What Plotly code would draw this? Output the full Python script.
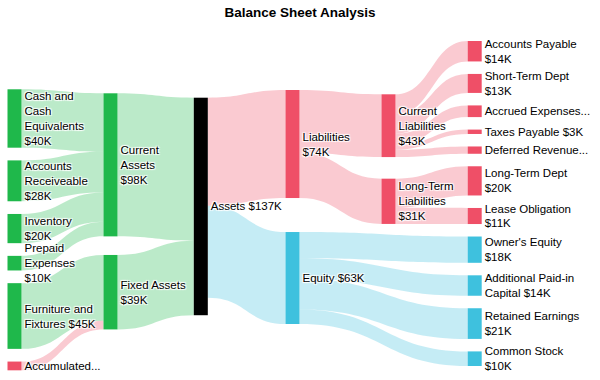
import plotly.graph_objects as go

# ---------------- data ----------------
node_names = ["Cash and<br>Cash<br>Equivalents", "Accounts<br>Receiveable", "Inventory", "Prepaid<br>Expenses",
              "Furniture and<br>Fixtures", "Accumulated...",
              "Current<br>Assets", "Fixed Assets",
              "Assets",
              "Liabilities", "Equity",
              "Current<br>Liabilities", "Long-Term<br>Liabilities",
              "Accounts Payable", "Short-Term Dept", "Accrued Expenses...", "Taxes Payable", "Deferred Revenue...",
              "Long-Term Dept", "Lease Obligation",
              "Owner's Equity", "Additional Paid-in<br>Capital", "Retained Earnings", "Common Stock"]
node_value_text = ["$40K", "$28K", "$20K", "$10K", "$45K", "",
                   "$98K", "$39K", "$137K", "$74K", "$63K", "$43K", "$31K",
                   "$14K", "$13K", "", "$3K", "", "$20K", "$11K",
                   "$18K", "$14K", "$21K", "$10K"]
node_groups = ["asset"] * 5 + ["liab"] + ["asset", "asset", "total", "liab", "equity", "liab", "liab"] \
    + ["liab"] * 7 + ["equity"] * 4

link_source = ["Cash and<br>Cash<br>Equivalents", "Accounts<br>Receiveable", "Inventory", "Prepaid<br>Expenses",
               "Furniture and<br>Fixtures", "Accumulated...",
               "Current<br>Assets", "Fixed Assets", "Assets", "Assets",
               "Liabilities", "Liabilities",
               "Current<br>Liabilities", "Current<br>Liabilities", "Current<br>Liabilities",
               "Current<br>Liabilities", "Current<br>Liabilities",
               "Long-Term<br>Liabilities", "Long-Term<br>Liabilities",
               "Equity", "Equity", "Equity", "Equity"]
link_target = ["Current<br>Assets", "Current<br>Assets", "Current<br>Assets", "Current<br>Assets",
               "Fixed Assets", "Fixed Assets",
               "Assets", "Assets", "Liabilities", "Equity",
               "Current<br>Liabilities", "Long-Term<br>Liabilities",
               "Accounts Payable", "Short-Term Dept", "Accrued Expenses...", "Taxes Payable", "Deferred Revenue...",
               "Long-Term Dept", "Lease Obligation",
               "Owner's Equity", "Additional Paid-in<br>Capital", "Retained Earnings", "Common Stock"]
link_value = [40, 28, 20, 10, 45, 6, 98, 51, 74, 63, 43, 31, 14, 13, 8, 3, 5, 20, 11, 18, 14, 21, 10]

# ---------------- styling / layout ----------------
W, H = 600, 380
TOP, BOTTOM = 41, 9
PAD, THICK = 13, 14
node_color = {"asset": "#1fb84b", "liab": "#ef4f67", "equity": "#3ec1de", "total": "#000000"}
link_color = {"asset": "rgba(31,184,75,0.3)", "liab": "rgba(239,79,103,0.3)",
              "equity": "rgba(62,193,222,0.3)"}

# column membership (top-to-bottom order), column centre x (px), column top (px), gap (px)
columns = [
    (node_names[0:6], 14.5, 89.3, 12.7),
    (node_names[6:8], 110.5, 93.3, 18.6),
    (node_names[8:9], 200.8, 97.7, 0),
    (node_names[9:11], 292.5, 90.0, 34.0),
    (node_names[11:13], 388.5, 94.3, 21.6),
    (node_names[13:24], 474.7, 41.0, 12.5),
]

idx = {n: i for i, n in enumerate(node_names)}
n_nodes = len(node_names)

# node sizes from link flows (max of in/out), like the sankey engine does
inflow = [0.0] * n_nodes
outflow = [0.0] * n_nodes
for s, t, v in zip(link_source, link_target, link_value):
    outflow[idx[s]] += v
    inflow[idx[t]] += v
size = [max(a, b) for a, b in zip(inflow, outflow)]

plot_h = H - TOP - BOTTOM
last = columns[-1][0]
ky = (plot_h - (len(last) - 1) * PAD) / sum(size[idx[n]] for n in last)

node_x = [0.0] * n_nodes
node_y = [0.0] * n_nodes
for names, cx, top, gap in columns:
    y = top
    for n in names:
        h = size[idx[n]] * ky
        node_x[idx[n]] = cx / W
        node_y[idx[n]] = (y + h / 2 - TOP) / plot_h
        y += h + gap

labels = []
for n, v in zip(node_names, node_value_text):
    if not v:
        labels.append(n)
    elif n in ("Assets", "Equity", "Taxes Payable"):
        labels.append(n + " " + v)
    else:
        labels.append(n + "<br>" + v)
labels[idx["Furniture and<br>Fixtures"]] = "Furniture and<br>Fixtures $45K"
labels[idx["Additional Paid-in<br>Capital"]] = "Additional Paid-in<br>Capital $14K"


def lcol(s, t):
    gs, gt = node_groups[idx[s]], node_groups[idx[t]]
    return link_color[gt if gs == "total" else gs]


sources = [idx[s] for s in link_source]
targets = [idx[t] for t in link_target]
values = list(link_value)
lcolors = [lcol(s, t) for s, t in zip(link_source, link_target)]
ncolors = [node_color[g] for g in node_groups]

# invisible helper column on the far right, so the last visible column keeps
# its labels on the right-hand side of the nodes (as in the reference)
helper = n_nodes
labels.append("")
ncolors.append("rgba(0,0,0,0)")
node_x.append(0.995)
node_y.append(0.5)
for n in last:
    sources.append(idx[n])
    targets.append(helper)
    values.append(1e-4)
    lcolors.append("rgba(0,0,0,0)")

fig = go.Figure(go.Sankey(
    arrangement="fixed",
    node=dict(label=labels, color=ncolors, pad=PAD, thickness=THICK, align="right",
              line=dict(width=0), x=node_x, y=node_y,
              hovertemplate="%{label}<extra></extra>"),
    link=dict(source=sources, target=targets, value=values, color=lcolors,
              hoverinfo="skip"),
    textfont=dict(family="Liberation Sans, Arial", size=11.5, color="#000"),
))
fig.update_layout(
    width=W, height=H,
    title=dict(text="<b>Balance Sheet Analysis</b>", x=0.5, y=1 - 12 / H, xanchor="center", yanchor="middle",
               font=dict(family="Liberation Sans, Arial", size=13.5, color="#000")),
    margin=dict(l=0, r=0, t=TOP, b=BOTTOM),
    paper_bgcolor="white",
)
fig.write_html("out.html", config={"displayModeBar": False},
               post_script="document.body.style.margin='0';")
